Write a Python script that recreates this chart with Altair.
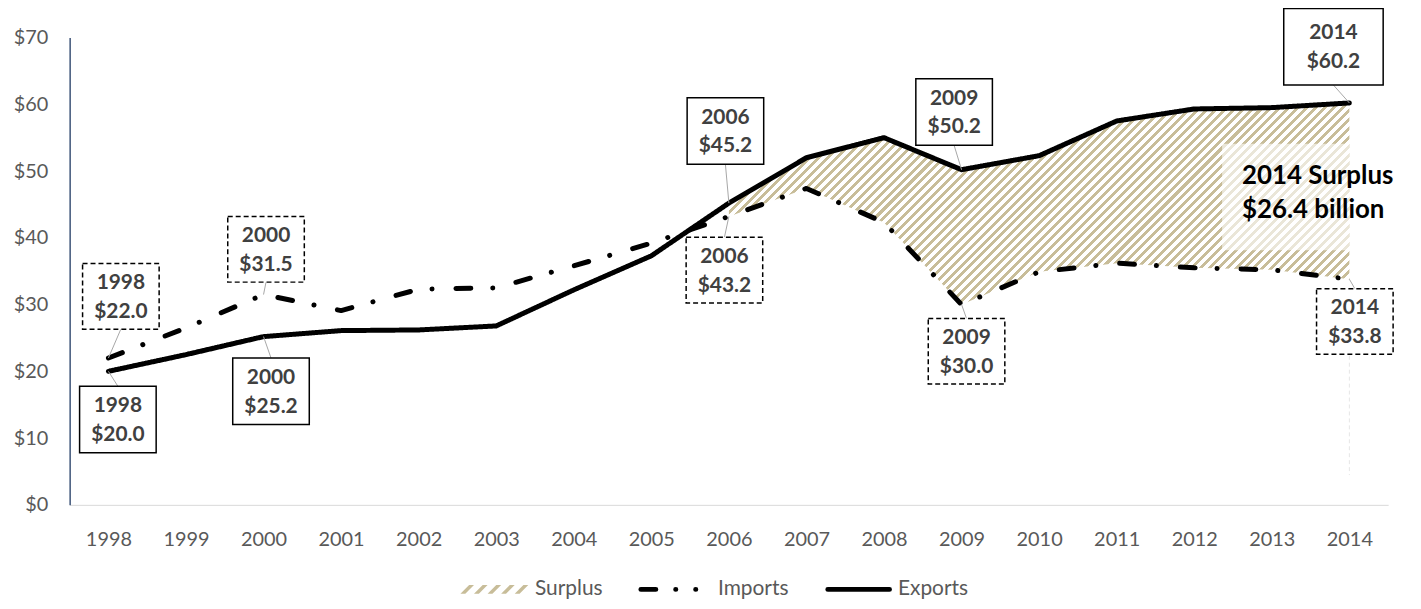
import altair as alt
import pandas as pd

# ---------------- data ----------------
years = list(range(1998, 2015))
exports = [20.0, 22.5, 25.2, 26.1, 26.2, 26.8, 32.2, 37.3, 45.2, 52.0, 55.0,
           50.2, 52.3, 57.5, 59.3, 59.5, 60.2]
imports = [22.0, 26.5, 31.5, 29.1, 32.3, 32.5, 35.8, 39.2, 43.2, 47.4, 42.3,
           30.0, 34.9, 36.2, 35.5, 35.2, 33.8]
series_names = ["Surplus", "Imports", "Exports"]
labelled_years = [1998, 2000, 2006, 2009, 2014]
surplus_start = 2006
surplus_note = "2014 Surplus\n$26.4 billion"
y_ticks = [0, 10, 20, 30, 40, 50, 60, 70]

# ---------------- styles ----------------
W, H = 1326, 470
X_DOMAIN = [1997.5, 2014.5]
Y_DOMAIN = [0, 70]
TAN = "#c8bd99"
FONT = "Lato"
TEXT_DARK = "#404040"
AXIS_GRAY = "#595959"
IMPORT_DASH = [15, 22, 0.1, 24]
LABEL_LH = 29

# label box placement (pixel offset of box centre from the point, box size)
label_style = {
    ("Imports", 1998): dict(dx=12.5, dy=-62, w=77, h=66),
    ("Imports", 2000): dict(dx=2.5, dy=-45.5, w=77, h=66),
    ("Imports", 2006): dict(dx=-4.5, dy=54, w=77, h=66),
    ("Imports", 2009): dict(dx=5, dy=47, w=77, h=66),
    ("Imports", 2014): dict(dx=5.5, dy=42.5, w=77, h=66),
    ("Exports", 1998): dict(dx=9.5, dy=48.5, w=77, h=67),
    ("Exports", 2000): dict(dx=7.5, dy=55, w=77, h=67),
    ("Exports", 2006): dict(dx=-3.5, dy=-72.5, w=77, h=67),
    ("Exports", 2009): dict(dx=-7.5, dy=-58, w=77, h=67),
    ("Exports", 2014): dict(dx=-16, dy=-56.5, w=100, h=77),
}

# legend item layout (pixels, relative to the plot area's top-left corner)
legend_y = 555
legend_items = {
    "Surplus": dict(kind="hatch", x=393, x2=463, tx=468),
    "Imports": dict(kind="dash", x=574.5, x2=645.5, tx=652),
    "Exports": dict(kind="solid", x=762.5, x2=824.5, tx=833),
}

df = pd.DataFrame({"year": years, "Exports": exports, "Imports": imports})
long_df = df.melt("year", value_vars=["Imports", "Exports"],
                  var_name="series", value_name="value")
surplus_df = df[df["year"] >= surplus_start]

x_scale = alt.Scale(domain=X_DOMAIN, nice=False, zero=False)
y_scale = alt.Scale(domain=Y_DOMAIN, nice=False)


def X(field="year"):
    return alt.X(f"{field}:Q", scale=x_scale,
                 axis=alt.Axis(values=years, format="d", title=None,
                               domainColor="#d9d9d9", domainWidth=1,
                               ticks=False, labelPadding=25, labelFlush=False))


def Y(field):
    return alt.Y(f"{field}:Q", scale=y_scale,
                 axis=alt.Axis(values=y_ticks, labelExpr="'$' + datum.value",
                               title=None, domainColor="#3d5478",
                               domainWidth=1.5, ticks=False, labelPadding=22))


# ---------------- hatch gradient for surplus ----------------
px_x = W / (X_DOMAIN[1] - X_DOMAIN[0])
px_y = H / (Y_DOMAIN[1] - Y_DOMAIN[0])
bw = (surplus_df["year"].max() - surplus_df["year"].min()) * px_x
bh = (surplus_df["Exports"].max() - surplus_df["Imports"].min()) * px_y
k = (1 / bh + 1 / bw) / (1 / bh ** 2 + 1 / bw ** 2)
period = 9.0
n_stripes = int(round((bw + bh) / period))
frac = 0.45
stops = []
for i in range(n_stripes):
    a = round(i / n_stripes, 6)
    b = round((i + frac) / n_stripes, 6)
    c = round((i + 1) / n_stripes, 6)
    stops += [alt.GradientStop(color=TAN, offset=a),
              alt.GradientStop(color=TAN, offset=b),
              alt.GradientStop(color="white", offset=b),
              alt.GradientStop(color="white", offset=c)]
hatch = alt.Gradient(gradient="linear", stops=stops,
                     x1=0, y1=0, x2=k / bh, y2=k / bw)

area = alt.Chart(surplus_df).mark_area(color=hatch, strokeWidth=0).encode(
    x=X(), y=Y("Imports"), y2="Exports:Q")

# note on the surplus
note_df = pd.DataFrame({"year": [years[-1]],
                        "mid": [(exports[-1] + imports[-1]) / 2],
                        "text": [surplus_note]})
note_bg = alt.Chart(note_df).mark_rect(
    fill="white", opacity=0.62, xOffset=-128, x2Offset=0,
    yOffset=-47.5, y2Offset=59.5).encode(
    x=X(), x2="year:Q", y=Y("mid"), y2="mid:Q")
note_text = alt.Chart(note_df).mark_text(
    align="left", baseline="middle", dx=-108, dy=2 - 35 / 2, lineBreak="\n",
    lineHeight=35, font=FONT, fontSize=26, fontWeight="bold",
    color="black").encode(x=X(), y=Y("mid"), text="text:N")

# faint guide under the 2014 imports label
guide_df = pd.DataFrame({"year": [years[-1]], "value": [imports[-1]]})
guide = alt.Chart(guide_df).mark_rule(
    color="#e6e6e6", strokeWidth=1, strokeDash=[4, 3],
    yOffset=77, y2Offset=197).encode(x=X(), y=Y("value"), y2="value:Q")

lines = alt.Chart(long_df).mark_line(
    strokeWidth=5, strokeCap="round", strokeJoin="round").encode(
    x=X(), y=Y("value"),
    color=alt.Color("series:N",
                    scale=alt.Scale(domain=["Imports", "Exports"],
                                    range=["black", "black"]),
                    legend=None),
    strokeDash=alt.StrokeDash("series:N",
                              scale=alt.Scale(domain=["Imports", "Exports"],
                                              range=[IMPORT_DASH, [1, 0]]),
                              legend=None),
)

# ---------------- legend ----------------
hatch_path = ""
for i in range(5):
    x0 = -1 + i * 0.39
    hatch_path += (f"M{x0:.3f},0.125L{x0 + 0.25:.3f},-0.125"
                   f"L{x0 + 0.39:.3f},-0.125L{x0 + 0.14:.3f},0.125Z")

legend_layers = []
for name in series_names:
    it = legend_items[name]
    one = pd.DataFrame({"series": [name]})
    if it["kind"] == "hatch":
        sw = it["x2"] - it["x"]
        sym = alt.Chart(one).mark_point(
            shape=hatch_path, size=sw * sw, filled=True, fill=TAN,
            strokeWidth=0, opacity=1).encode(
            x=alt.value((it["x"] + it["x2"]) / 2), y=alt.value(legend_y))
    else:
        dash = [15, 20, 0.1, 20, 0.1, 300] if it["kind"] == "dash" else [1, 0]
        sym = alt.Chart(one).mark_rule(
            color="black", strokeWidth=5, strokeCap="round",
            strokeDash=dash).encode(
            x=alt.value(it["x"]), x2=alt.value(it["x2"]),
            y=alt.value(legend_y))
    lab = alt.Chart(one).mark_text(
        align="left", baseline="middle", font=FONT, fontSize=21,
        color=AXIS_GRAY).encode(
        x=alt.value(it["tx"]), y=alt.value(legend_y), text="series:N")
    legend_layers += [sym, lab]

layers = [area, note_bg, lines]
values = {"Imports": imports, "Exports": exports}
label_layers = []
for name in ["Imports", "Exports"]:
    for yr in labelled_years:
        st = label_style[(name, yr)]
        v = values[name][years.index(yr)]
        row = pd.DataFrame({"year": [yr], "value": [v],
                            "text": [f"{yr}\n${v:.1f}"]})
        edge = st["dy"] + st["h"] / 2 if st["dy"] < 0 else st["dy"] - st["h"] / 2
        leader = alt.Chart(row).mark_rule(
            color="#a6a6a6", strokeWidth=1, x2Offset=st["dx"],
            y2Offset=edge).encode(x=X(), x2="year:Q", y=Y("value"),
                                  y2="value:Q")
        box_kw = dict(fill="white", stroke="black", strokeWidth=1.5,
                      xOffset=st["dx"] - st["w"] / 2,
                      x2Offset=st["dx"] + st["w"] / 2,
                      yOffset=st["dy"] - st["h"] / 2,
                      y2Offset=st["dy"] + st["h"] / 2)
        if name == "Imports":
            box_kw["strokeDash"] = [5, 3]
        box = alt.Chart(row).mark_rect(**box_kw).encode(
            x=X(), x2="year:Q", y=Y("value"), y2="value:Q")
        txt = alt.Chart(row).mark_text(
            align="center", baseline="middle", dx=st["dx"],
            dy=st["dy"] + 1 - LABEL_LH / 2,
            lineBreak="\n", lineHeight=LABEL_LH, font=FONT, fontSize=21,
            fontWeight="bold", color=TEXT_DARK).encode(
            x=X(), y=Y("value"), text="text:N")
        label_layers += [leader, box, txt]

chart = alt.layer(*layers, guide, *label_layers, note_text,
                  *legend_layers).properties(
    width=W, height=H,
    autosize=alt.AutoSizeParams(type="none"),
    padding={"left": 62, "top": 28, "right": 25, "bottom": 95},
).configure_axis(
    labelFont=FONT, labelFontSize=20, labelColor=AXIS_GRAY, grid=False,
).configure_view(stroke=None)

chart.save("out.html", embed_options={"renderer": "svg", "actions": False})
